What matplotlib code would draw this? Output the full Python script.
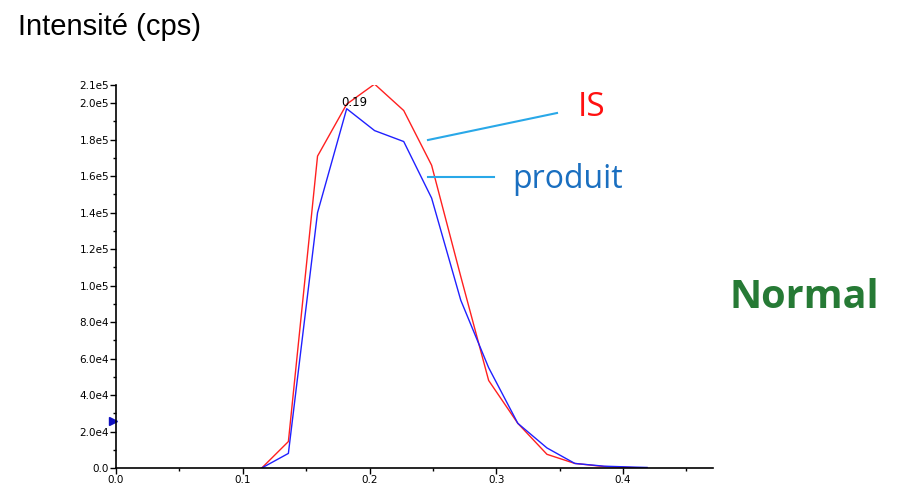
import numpy as np
import matplotlib
matplotlib.use("Agg")
import matplotlib.pyplot as plt
from matplotlib.ticker import FixedLocator, MultipleLocator, FuncFormatter

# retention time (min) and intensities
temps = [0.115, 0.136, 0.159, 0.182, 0.204, 0.227, 0.249, 0.272, 0.294, 0.317, 0.340, 0.362, 0.385, 0.408, 0.419]
is_cps = [0, 14.5e3, 171e3, 199.5e3, 210.5e3, 196e3, 166e3, 105e3, 48e3, 24.5e3, 7.5e3, 2.5e3, 0.8e3, 0.2e3, 0]
produit_cps = [0, 8e3, 140e3, 197e3, 185e3, 179e3, 148e3, 92e3, 55e3, 24.5e3, 11e3, 2.5e3, 1.0e3, 0.5e3, 0.3e3]

y_ticks = [0, 2e4, 4e4, 6e4, 8e4, 1e5, 1.2e5, 1.4e5, 1.6e5, 1.8e5, 2.0e5, 2.1e5]
x_ticks = [0.0, 0.1, 0.2, 0.3, 0.4]

W, H = 897, 497
fig = plt.figure(figsize=(W / 100, H / 100), dpi=100)

# axes placed in pixels
x0, x1, y0, y1 = 116, 713, 468, 85
ax = fig.add_axes([x0 / W, 1 - y0 / H, (x1 - x0) / W, (y0 - y1) / H])

ax.plot(temps, is_cps, color="#ff2020", lw=1.0)
ax.plot(temps, produit_cps, color="#2020ff", lw=1.0)

ax.set_xlim(0, 0.471)
ax.set_ylim(0, 2.1e5)
for s in ["top", "right"]:
    ax.spines[s].set_visible(False)
for s in ["left", "bottom"]:
    ax.spines[s].set_linewidth(1.2)

def fmt_y(v, pos):
    if v == 0:
        return "0.0"
    e = int(np.floor(np.log10(v)))
    return "%.1fe%d" % (v / 10 ** e, e)

ax.yaxis.set_major_locator(FixedLocator(y_ticks))
ax.yaxis.set_major_formatter(FuncFormatter(fmt_y))
ax.yaxis.set_minor_locator(MultipleLocator(1e4))
ax.xaxis.set_major_locator(FixedLocator(x_ticks))
ax.xaxis.set_major_formatter(FuncFormatter(lambda v, p: "%.1f" % v))
ax.xaxis.set_minor_locator(MultipleLocator(0.05))
ax.tick_params(which="major", length=4, width=1, labelsize=7.5, pad=1)
ax.tick_params(which="minor", length=2.5, width=1)

# peak label and marker on the axis
ax.text(0.188, 1.97e5, "0.19", fontsize=8.5, ha="center", va="bottom")
ax.plot([-0.002], [26e3], marker=">", color="#1010c0", markersize=6, clip_on=False)

# labels around the figure
fig.text(18 / W, 1 - 27 / H, "Intensité (cps)", fontsize=21, family="Liberation Sans", va="center")
fig.text(578 / W, 1 - 108 / H, "IS", fontsize=24, color="#ff1010", family="Open Sans", va="center")
fig.text(512 / W, 1 - 180 / H, "produit", fontsize=23, color="#1a6fc0", family="Open Sans", va="center")
fig.text(729 / W, 1 - 297 / H, "Normal", fontsize=28.5, color="#267a35", family="Open Sans", weight="bold", va="center")

# leader lines
fig.add_artist(plt.Line2D([428 / W, 557 / W], [1 - 140 / H, 1 - 113 / H], color="#29a8e8", lw=1.5))
fig.add_artist(plt.Line2D([428 / W, 494 / W], [1 - 177 / H, 1 - 177 / H], color="#29a8e8", lw=1.5))

fig.savefig("out.png", dpi=100)
